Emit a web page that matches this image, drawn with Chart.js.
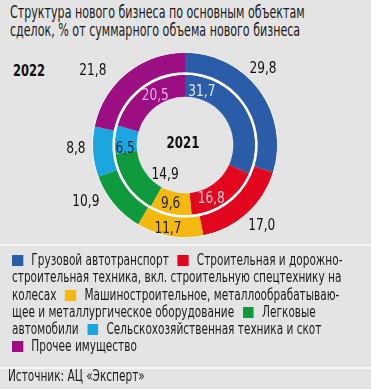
<!DOCTYPE html>
<html>
<head>
<meta charset="utf-8">
<script src="https://cdn.jsdelivr.net/npm/chart.js@4/dist/chart.umd.min.js"></script>
<style>
  html, body { margin: 0; padding: 0; }
  body { width: 371px; height: 389px; background: #e4e4e4; overflow: hidden; position: relative;
         font-family: "DejaVu Sans", sans-serif; font-stretch: condensed; color: #1a1a1a; }
  .nar { transform: scaleX(0.755); transform-origin: 0 0; }
  #title { position: absolute; left: 10px; top: 3px; width: 480px; font-size: 17px; line-height: 18px; white-space: nowrap; transform: scaleX(0.726); transform-origin: 0 0; }
  #year22 { position: absolute; left: 13px; top: 61px; font-size: 16px; font-weight: bold; color: #111; transform: scaleX(0.8); transform-origin: 0 0; }
  #wrap { position: absolute; left: 50px; top: 45px; width: 270px; height: 200px; }
  .sep { position: absolute; left: 0; width: 371px; height: 2px; background: #f6f6f6; }
  #legend { position: absolute; left: 12px; top: 252px; width: 455px; font-size: 15.5px; line-height: 17.3px; }
  #legend .sw { display: inline-block; width: 14.6px; height: 11px; margin-right: 11px; vertical-align: -1px; }
  #legend .it { margin-right: 7px; }
  #legend .hd { white-space: nowrap; }
  #source { position: absolute; left: 8px; top: 367px; font-size: 15.5px; line-height: 18px; white-space: nowrap; }
</style>
</head>
<body>
<div id="title">Структура нового бизнеса по основным объектам<br>сделок, % от суммарного объема нового бизнеса</div>
<div id="year22">2022</div>
<div id="wrap"><canvas id="c"></canvas></div>
<div class="sep" style="top:244px"></div>
<div id="legend" class="nar"></div>
<div class="sep" style="top:367px"></div>
<div id="source" class="nar">Источник: АЦ «Эксперт»</div>
<script>
// ---- data ----
const categories = [
  "Грузовой автотранспорт",
  "Строительная и дорожно-строительная техника, вкл. строительную спецтехнику на колесах",
  "Машиностроительное, металлообрабатываю\u00ADщее и металлургическое оборудование",
  "Легковые автомобили",
  "Сельскохозяйственная техника и скот",
  "Прочее имущество"
];
const values2022 = [29.8, 17.0, 11.7, 10.9, 8.8, 21.8];
const values2021 = [31.7, 16.8, 9.6, 14.9, 6.5, 20.5];
const yearLabels = ["2022", "2021"];

// ---- styles ----
const colors = ["#2a5ca8", "#e2061f", "#f5b80f", "#0e9a3d", "#1ba6e0", "#9b0f83"];
// label placement relative to each arc: [angle shift in degrees, distance]
const outerLabelPlace = [[-8, 17], [-1.5, 19], [2, -7], [10, 22], [2.3, 17], [-12, 26]]; // offset from outer radius
const innerLabelPlace = [[-39.5, 56], [9.5, 59.5], [2, 60], [-22, 35.5], [-8.5, 60], [6, 58]]; // from centre
const outerLabelColors = ["#111", "#111", "#222", "#111", "#111", "#111"];
const innerLabelColors = ["#dfe8f7", "#f8c8cf", "#222", "#111", "#14283f", "#f7b3e4"];

// legend: swatch + first word kept together
const legend = document.getElementById('legend');
legend.innerHTML = categories.map((c, i) => {
  const k = c.indexOf(' ');
  const head = k < 0 ? c : c.slice(0, k);
  const rest = k < 0 ? '' : c.slice(k);
  return '<span class="it"><span class="hd"><span class="sw" style="background:' + colors[i] + '"></span>' +
         head + '</span>' + rest + '</span>';
}).join(' ');

const fmt = v => v.toFixed(1).replace('.', ',');
const FONT = '"DejaVu Sans", sans-serif';
const TEXT_SX = 0.82;

function narrowText(ctx, txt, x, y) {
  ctx.save();
  ctx.translate(x, y);
  ctx.scale(TEXT_SX, 1);
  ctx.fillText(txt, 0, 0);
  ctx.restore();
}

const labelPlugin = {
  id: 'labels',
  afterDatasetsDraw(chart) {
    const ctx = chart.ctx;
    ctx.save();
    ctx.textAlign = 'center';
    ctx.textBaseline = 'middle';
    ctx.font = '16.5px ' + FONT;
    if ('fontStretch' in ctx) ctx.fontStretch = 'condensed';
    const m22 = chart.getDatasetMeta(1);
    m22.data.forEach((arc, i) => {
      const p = arc.getProps(['x', 'y', 'startAngle', 'endAngle', 'outerRadius'], true);
      const a = (p.startAngle + p.endAngle) / 2 + outerLabelPlace[i][0] * Math.PI / 180;
      const r = p.outerRadius + outerLabelPlace[i][1];
      ctx.fillStyle = outerLabelColors[i];
      narrowText(ctx, fmt(values2022[i]), p.x + r * Math.cos(a), p.y + r * Math.sin(a));
    });
    const m21 = chart.getDatasetMeta(3);
    m21.data.forEach((arc, i) => {
      const p = arc.getProps(['x', 'y', 'startAngle', 'endAngle'], true);
      const a = (p.startAngle + p.endAngle) / 2 + innerLabelPlace[i][0] * Math.PI / 180;
      const r = innerLabelPlace[i][1];
      ctx.fillStyle = innerLabelColors[i];
      narrowText(ctx, fmt(values2021[i]), p.x + r * Math.cos(a), p.y + r * Math.sin(a));
    });
    const c0 = m21.data[0];
    ctx.font = 'bold 16px ' + FONT;
    if ('fontStretch' in ctx) ctx.fontStretch = 'condensed';
    ctx.fillStyle = '#111';
    narrowText(ctx, yearLabels[1], c0.x - 2, c0.y - 1);
    ctx.restore();
  }
};

new Chart(document.getElementById('c'), {
  type: 'doughnut',
  data: {
    labels: categories,
    datasets: [
      { data: [1], backgroundColor: ['#f2f2f2'], borderWidth: 0, weight: 0.8 },
      { label: yearLabels[0], data: values2022, backgroundColor: colors, borderWidth: 0, weight: 19.2 },
      { data: [1], backgroundColor: ['#ffffff'], borderWidth: 0, weight: 2.5 },
      { label: yearLabels[1], data: values2021, backgroundColor: colors, borderWidth: 0, weight: 21.5 }
    ]
  },
  options: {
    responsive: true,
    maintainAspectRatio: false,
    devicePixelRatio: 1,
    animation: false,
    cutout: '52%',
    layout: { padding: { left: 42, right: 42, top: 7, bottom: 7 } },
    plugins: { legend: { display: false }, tooltip: { enabled: false } }
  },
  plugins: [labelPlugin]
});
</script>
</body>
</html>
